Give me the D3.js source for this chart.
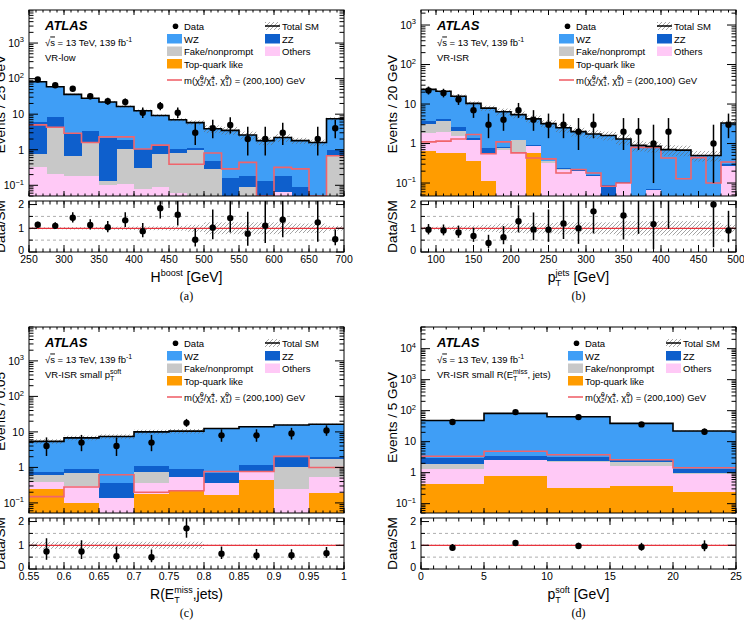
<!DOCTYPE html>
<html>
<head>
<meta charset="utf-8">
<script src="https://cdn.jsdelivr.net/npm/d3@7"></script>
<style>
  body { margin: 0; background: #fff; }
  svg { font-family: "Liberation Sans", Arial, Helvetica, sans-serif; }
</style>
</head>
<body>
<script>
// ---------- (a) VR-low, H^boost ----------
const aEdges = [250,275,300,325,350,375,400,425,450,475,500,525,550,575,600,625,650,675];
const aTop   = [0.02,0.02,0.02,0.02,0.02,0.02,0.02,0.02,0.02,0.02,0.02,0.02,0.02,0.02,0.02,0.02,0.02,0.02];
const aOth   = [0.30,0.19,0.16,0.16,0.08,0.09,0.06,0.07,0.04,0.02,0.02,0.01,0.01,0.01,0.043,0.01,0.01,0.02];
const aFake  = [0.44,4.04,0.50,1.42,0.03,0.94,0.22,0.67,0.74,0.93,0.25,0.01,0.057,0,0,0,0,0.64];
const aZZ    = [5.14,3.95,2.22,1.8,2.07,0.85,0.75,0.54,0.25,0.18,0.2,0.125,0.093,0.1,0.117,0.057,0,0.29];
const aWZ    = [76.1,50.8,33.1,24.6,19.8,14.6,11.45,7.9,5.95,4.65,3.41,3.335,2.42,1.67,2.02,1.713,1.57,6.43];
const aData  = [94,65,52,32,23,22,11,17,11,3,4,5,2,2,3,0,2,4];
const aSig   = [5.0,4.3,2.9,1.6,2.3,2.3,1.05,1.35,0.39,0.39,0.81,0.29,0.44,0.03,0.32,0.29,0.03,0.68];
const aUnc   = [0.04,0.04,0.05,0.05,0.06,0.07,0.08,0.08,0.1,0.15,0.25,0.25,0.25,0.25,0.25,0.2,0.2,0.1];

// ---------- (b) VR-ISR, pT jets ----------
const bEdges = [80,100,120,140,160,180,200,220,240,260,280,300,320,340,360,380,400,420,440,460,480];
const bTop   = [0.64,0.56,0.57,0.36,0.11,0.02,0.02,0.57,0.02,0.02,0.02,0.02,0.02,0.02,0.02,0.02,0.02,0.02,0.02,0.02,0.02];
const bOth   = [1.23,1.37,0.96,0.84,0.42,0.66,0.6,0.29,0.31,0.2,0.18,0.13,0.01,0.08,0.01,0.045,0.01,0.01,0.01,0.01,0.25];
const bFake  = [1.33,1.87,0.52,0.05,0.02,0.08,0.58,0.02,0.03,0.01,0,0,0,0,0,0,0,0,0,0,0];
const bZZ    = [0.5,0.3,0.55,0.1,0.23,0.04,0.05,0.02,0.01,0.01,0.02,0.01,0.06,0.005,0.01,0.005,0,0,0,0,0.03];
const bWZ    = [19.8,16.9,13.2,9.05,7.12,5.6,4.15,3.3,2.83,2.26,1.78,1.59,1.51,1.195,0.86,0.78,0.67,0.65,0.47,0.47,3.0];
const bData  = [22,19,13,7,3,4,7,4,3,3,2,3,0,2,2,1,2,0,0,1,3];
const bSig   = [1.1,1.15,1.3,1.69,0.55,1.1,0.58,0.43,0.41,0.18,0.22,0.18,0.083,0.1,0.8,0.8,0.43,0.128,0.44,0.1,0.34];
const bUnc   = [0.06,0.07,0.1,0.12,0.15,0.2,0.2,0.22,0.22,0.25,0.25,0.25,0.25,0.3,0.3,0.3,0.3,0.3,0.3,0.3,0.15];

// ---------- (c) VR-ISR small pT soft, R(MET,jets) ----------
const cEdges = [0.55,0.6,0.65,0.7,0.75,0.8,0.85,0.9,0.95];
const cTop   = [0.25,0.097,0.04,0.18,0.22,0.17,0.43,0.04,0.19];
const cOth   = [0.135,0.203,0.1,0.18,0.31,0.19,0.31,0.21,0.34];
const cFake  = [0.215,0.41,0,0.38,0.02,0,0,0.77,1.15];
const cZZ    = [0.14,0.21,0.22,0.33,0.37,0.35,0.4,0.93,0.3];
const cWZ    = [4.66,5.88,7.04,8.93,9.58,11.79,12.86,13.65,14.52];
const cData  = [4,5,4,5,18,8,8,9,11];
const cSig   = [0.15,0.28,0.62,0.2,0.22,0.77,0.77,2.04,0.99];
const cUnc   = [0.15,0.15,0.15,0.15,0.15,0.03,0.03,0.03,0.03];

// ---------- (d) VR-ISR small R(MET,jets), pT soft ----------
const dEdges = [0,5,10,15,20];
const dTop   = [0.44,0.78,0.31,0.36,0.23];
const dOth   = [0.9,1.82,1.89,1.24,0.7];
const dFake  = [0.59,0.05,0.1,0.6,0.02];
const dZZ    = [1.07,0.85,0.8,0.6,0.35];
const dWZ    = [45,78.5,60.9,36.2,20.7];
const dData  = [43,90,62,36,21];
const dSig   = [3.4,4.9,3.8,2.6,1.44];
const dUnc   = [0.03,0.03,0.03,0.03,0.03];

const colWZ = '#3f9ef6', colZZ = '#0e5fcc', colFake = '#c8c8c8',
      colOth = '#ffc9f6', colTop = '#ff9c00', colSig = '#f0646c';

const PW = 315, MH = 186, RGAP = 5, RH = 51;

const svg = d3.select('body').append('svg').attr('width', 744).attr('height', 623);
const defs = svg.append('defs');
const pat = defs.append('pattern').attr('id', 'hatch')
  .attr('patternUnits', 'userSpaceOnUse').attr('width', 4).attr('height', 4);
pat.append('path').attr('d', 'M-1,1 l2,-2 M0,4 l4,-4 M3,5 l2,-2')
  .attr('stroke', '#666').attr('stroke-width', 0.6);

// text with super/subscripts; part.b = place under previous part
function rich(g, x, y, parts, size, anchor) {
  const t = g.append('text').attr('x', x).attr('y', y)
    .attr('font-size', size).attr('text-anchor', anchor || 'start');
  let cur = 0, lastW = 0, pend = 0;
  parts.forEach(p => {
    if (typeof p === 'string') p = {t: p};
    const o = p.o || 0;
    const ts = t.append('tspan').text(p.t).attr('dy', o - cur);
    cur = o;
    if (p.fs) ts.attr('font-size', p.fs);
    if (p.deco) ts.style('text-decoration', p.deco);
    let dx = pend; pend = 0;
    if (p.b) dx -= lastW;
    if (dx) ts.attr('dx', dx);
    const w = ts.node().getComputedTextLength();
    if (p.b) pend = Math.max(0, lastW - w);
    lastW = w;
  });
  return t;
}

function poisson(n) {
  return [Math.max(n - Math.sqrt(n) + 0.1, 0.001), n + Math.sqrt(n) + 1];
}

function drawPanel(p) {
  const g = svg.append('g');
  const L = p.L, T = p.T, n = p.edges.length;
  const x = d3.scaleLinear().domain(p.xDomain).range([L, L + PW]);
  const y = d3.scaleLog().domain(p.yDomain).range([T + MH, T]).clamp(true);
  const RT = T + MH + RGAP, RB = RT + RH;
  const yr = d3.scaleLinear().domain([0, 2.15]).range([RB, RT]).clamp(true);

  defs.append('clipPath').attr('id', 'cm' + p.id)
    .append('rect').attr('x', L).attr('y', T).attr('width', PW).attr('height', MH);
  defs.append('clipPath').attr('id', 'cr' + p.id)
    .append('rect').attr('x', L).attr('y', RT).attr('width', PW).attr('height', RH);

  const layers = [p.top, p.oth, p.fake, p.zz, p.wz];
  const colors = [colTop, colOth, colFake, colZZ, colWZ];
  const cum = [];
  let run = p.edges.map(() => 0);
  layers.forEach(l => { run = run.map((v, i) => v + l[i]); cum.push(run); });
  const total = cum[4];
  const bx0 = i => x(p.edges[i]), bx1 = i => x(p.edges[i] + p.bw);
  const idx = d3.range(n);

  const main = g.append('g').attr('clip-path', `url(#cm${p.id})`);
  for (let k = 4; k >= 0; k--) {
    main.append('g').selectAll('rect').data(idx).join('rect')
      .attr('x', bx0).attr('width', i => bx1(i) - bx0(i) + 0.3)
      .attr('y', i => y(cum[k][i])).attr('height', i => T + MH - y(cum[k][i]))
      .attr('fill', colors[k]).attr('shape-rendering', 'crispEdges');
  }
  main.append('g').selectAll('rect').data(idx).join('rect')
    .attr('x', bx0).attr('width', i => bx1(i) - bx0(i))
    .attr('y', i => y(total[i] * (1 + p.unc[i])))
    .attr('height', i => y(total[i] * (1 - p.unc[i])) - y(total[i] * (1 + p.unc[i])))
    .attr('fill', 'url(#hatch)');
  const step = (vals, sy) => d3.line().curve(d3.curveStepAfter)(
    [...idx.map(i => [bx0(i), sy(vals[i])]), [bx1(n - 1), sy(vals[n - 1])]]);
  main.append('path').attr('d', step(p.sig, y)).attr('fill', 'none')
    .attr('stroke', colSig).attr('stroke-width', 1.6);
  main.append('path').attr('d', step(total, y)).attr('fill', 'none')
    .attr('stroke', '#000').attr('stroke-width', 1.6);

  const pts = idx.filter(i => p.data[i] > 0);
  const cx = i => x(p.edges[i] + p.bw / 2);
  main.append('g').selectAll('line').data(pts).join('line')
    .attr('x1', cx).attr('x2', cx)
    .attr('y1', i => y(poisson(p.data[i])[0])).attr('y2', i => y(poisson(p.data[i])[1]))
    .attr('stroke', '#000').attr('stroke-width', 1.5);
  main.append('g').selectAll('circle').data(pts).join('circle')
    .attr('cx', cx).attr('cy', i => y(p.data[i])).attr('r', 3.2).attr('fill', '#000');

  // ratio panel
  const rat = g.append('g').attr('clip-path', `url(#cr${p.id})`);
  rat.append('g').selectAll('rect').data(idx).join('rect')
    .attr('x', bx0).attr('width', i => bx1(i) - bx0(i))
    .attr('y', i => yr(1 + p.unc[i])).attr('height', i => yr(1 - p.unc[i]) - yr(1 + p.unc[i]))
    .attr('fill', 'url(#hatch)');
  [0.5, 1.5].forEach(v => rat.append('line')
    .attr('x1', L).attr('x2', L + PW).attr('y1', yr(v)).attr('y2', yr(v))
    .attr('stroke', '#999').attr('stroke-dasharray', '3,3').attr('stroke-width', 0.8));
  rat.append('line').attr('x1', L).attr('x2', L + PW).attr('y1', yr(1)).attr('y2', yr(1))
    .attr('stroke', '#e8333c').attr('stroke-width', 1.3);
  rat.append('g').selectAll('line').data(pts).join('line')
    .attr('x1', cx).attr('x2', cx)
    .attr('y1', i => yr(poisson(p.data[i])[0] / total[i]))
    .attr('y2', i => yr(poisson(p.data[i])[1] / total[i]))
    .attr('stroke', '#000').attr('stroke-width', 1.5);
  rat.append('g').selectAll('circle').data(pts.filter(i => p.data[i] / total[i] < 2.15)).join('circle')
    .attr('cx', cx).attr('cy', i => yr(p.data[i] / total[i])).attr('r', 3.2).attr('fill', '#000');

  // frames
  [[T, MH], [RT, RH]].forEach(([t, h]) => g.append('rect')
    .attr('x', L).attr('y', t).attr('width', PW).attr('height', h)
    .attr('fill', 'none').attr('stroke', '#000').attr('stroke-width', 1));

  // ticks
  const tk = g.append('g').attr('stroke', '#000').attr('stroke-width', 1);
  const vtick = (xx, y0, len) => { tk.append('line').attr('x1', xx).attr('x2', xx).attr('y1', y0).attr('y2', y0 + len); };
  const htick = (yy, x0, len) => { tk.append('line').attr('x1', x0).attr('x2', x0 + len).attr('y1', yy).attr('y2', yy); };
  p.xMinor.forEach(v => {
    const xx = x(v);
    vtick(xx, T + MH, -2.5); vtick(xx, T, 2.5); vtick(xx, RB, -3.5); vtick(xx, RT, 3.5);
  });
  p.xMajor.forEach(v => {
    const xx = x(v);
    vtick(xx, T + MH, -5); vtick(xx, T, 5); vtick(xx, RB, -7); vtick(xx, RT, 7);
  });
  const [ylo, yhi] = p.yDomain;
  for (let e = Math.floor(Math.log10(ylo)); e <= Math.ceil(Math.log10(yhi)); e++) {
    for (let m = 1; m <= 9; m++) {
      const v = m * Math.pow(10, e);
      if (v < ylo || v > yhi) continue;
      const len = m === 1 ? 9 : 4.5;
      htick(y(v), L, len); htick(y(v), L + PW, -len);
    }
  }
  [0, 0.5, 1, 1.5, 2].forEach(v => {
    const len = Number.isInteger(v) ? 8 : 4;
    htick(yr(v), L, len); htick(yr(v), L + PW, -len);
  });

  // tick labels
  const lab = g.append('g').attr('font-size', 10.5);
  for (let e = Math.ceil(Math.log10(ylo)); e <= Math.floor(Math.log10(yhi)); e++) {
    const yy = y(Math.pow(10, e)) + 3.8;
    if (e === 0) rich(lab, L - 5, yy, ['1'], 10.5, 'end');
    else if (e === 1) rich(lab, L - 5, yy, ['10'], 10.5, 'end');
    else rich(lab, L - 5, yy, ['10', {t: String(e).replace('-', '\u2212'), o: -4.5, fs: 7.5}], 10.5, 'end');
  }
  [0, 1, 2].forEach(v => lab.append('text').attr('x', L - 5).attr('y', yr(v) + (v === 0 ? 1.5 : 3.8))
    .attr('text-anchor', 'end').text(v));
  p.xMajor.forEach(v => lab.append('text').attr('x', x(v)).attr('y', RB + 10.5)
    .attr('text-anchor', 'middle').text(p.xFmt(v)));

  // axis titles
  const cxm = L + PW / 2;
  rich(g, cxm, RB + 30, p.xTitle, 14, 'middle');
  g.append('text').attr('x', cxm).attr('y', RB + 48).attr('text-anchor', 'middle')
    .attr('font-family', '"Liberation Serif", "Times New Roman", serif').attr('font-size', 12)
    .text(p.caption);
  g.append('text').attr('transform', `translate(${L - 24},${T + 45}) rotate(-90)`)
    .attr('text-anchor', 'end').attr('font-size', 13.5).text(p.yTitle);
  g.append('text').attr('transform', `translate(${L - 24},${RT + RH / 2}) rotate(-90)`)
    .attr('text-anchor', 'middle').attr('font-size', 13.5).text('Data/SM');

  // labels and legend
  g.append('text').attr('x', L + 16).attr('y', T + 20).attr('font-size', 13)
    .attr('font-weight', 'bold').attr('font-style', 'italic').text('ATLAS');
  rich(g, L + 16, T + 35.5, ['\u221A', {t: 's', deco: 'overline'}, ' = 13 TeV, 139 fb',
    {t: '-1', o: -4, fs: 7}], 9.5);
  rich(g, L + 16, T + 50.5, p.region, 9.5);

  const c1 = L + 138 + p.shift, c2 = L + 236 + p.shift;
  const rows = [T + 19.5, T + 32.5, T + 45, T + 57.5];
  const lg = g.append('g').attr('font-size', 9.5);
  g.append('circle').attr('cx', c1 + 8.5).attr('cy', rows[0] - 3.3).attr('r', 2.8).attr('fill', '#000');
  lg.append('text').attr('x', c1 + 17).attr('y', rows[0]).text('Data');
  g.append('rect').attr('x', c2).attr('y', rows[0] - 7.5).attr('width', 15).attr('height', 8)
    .attr('fill', 'url(#hatch)');
  g.append('line').attr('x1', c2).attr('x2', c2 + 15).attr('y1', rows[0] - 3.5).attr('y2', rows[0] - 3.5)
    .attr('stroke', '#000').attr('stroke-width', 1.5);
  lg.append('text').attr('x', c2 + 17).attr('y', rows[0]).text('Total SM');
  const boxes = [[c1, rows[1], colWZ, 'WZ'], [c2, rows[1], colZZ, 'ZZ'],
    [c1, rows[2], colFake, 'Fake/nonprompt'], [c2, rows[2], colOth, 'Others'],
    [c1, rows[3], colTop, 'Top-quark like']];
  boxes.forEach(([bx, by, col, txt]) => {
    g.append('rect').attr('x', bx).attr('y', by - 8.5).attr('width', 15).attr('height', 9.5).attr('fill', col);
    lg.append('text').attr('x', bx + 17).attr('y', by).text(txt);
  });
  g.append('line').attr('x1', c1).attr('x2', c1 + 15).attr('y1', T + 70).attr('y2', T + 70)
    .attr('stroke', colSig).attr('stroke-width', 1.6);
  rich(g, c1 + 17, T + 73.5, ['m(', '\u03C7\u0303', {t: '0', o: -4, fs: 6.5}, {t: '2', o: 2.5, fs: 6.5, b: true},
    {t: '/\u03C7\u0303', o: 0}, {t: '\u00B1', o: -4, fs: 6.5}, {t: '1', o: 2.5, fs: 6.5, b: true},
    {t: ', \u03C7\u0303', o: 0}, {t: '0', o: -4, fs: 6.5}, {t: '1', o: 2.5, fs: 6.5, b: true},
    {t: ') = (200,100) GeV', o: 0}], 9.5);
}

const sub = (t) => ({t: t, o: 4, fs: 9, b: true});
const sup = (t) => ({t: t, o: -6, fs: 9});

drawPanel({
  id: 'a', L: 29, T: 10, xDomain: [250, 700], yDomain: [0.05, 8500],
  edges: aEdges, bw: 25, top: aTop, oth: aOth, fake: aFake, zz: aZZ, wz: aWZ,
  data: aData, sig: aSig, unc: aUnc,
  xMajor: d3.range(250, 701, 50), xMinor: d3.range(250, 701, 10), xFmt: v => String(v),
  xTitle: ['H', sup('boost'), {t: ' [GeV]', o: 0}], yTitle: 'Events / 25 GeV',
  region: ['VR-low'], caption: '(a)', shift: 0
});
drawPanel({
  id: 'b', L: 421, T: 10, xDomain: [80, 500], yDomain: [0.047, 2400],
  edges: bEdges, bw: 20, top: bTop, oth: bOth, fake: bFake, zz: bZZ, wz: bWZ,
  data: bData, sig: bSig, unc: bUnc,
  xMajor: d3.range(100, 501, 50), xMinor: d3.range(80, 501, 10), xFmt: v => String(v),
  xTitle: ['p', sup('jets'), sub('T'), {t: ' [GeV]', o: 0}], yTitle: 'Events / 20 GeV',
  region: ['VR-ISR'], caption: '(b)', shift: 0
});
drawPanel({
  id: 'c', L: 29, T: 327, xDomain: [0.55, 1], yDomain: [0.052, 9000],
  edges: cEdges, bw: 0.05, top: cTop, oth: cOth, fake: cFake, zz: cZZ, wz: cWZ,
  data: cData, sig: cSig, unc: cUnc,
  xMajor: d3.range(0, 10).map(i => 0.55 + i * 0.05), xMinor: d3.range(0, 46).map(i => 0.55 + i * 0.01),
  xFmt: v => String(+v.toFixed(2)),
  xTitle: ['R(E', sup('miss'), sub('T'), {t: ',jets)', o: 0}], yTitle: 'Events / 0.05',
  region: ['VR-ISR small p', {t: 'soft', o: -4, fs: 7}, {t: 'T', o: 3, fs: 7, b: true}],
  caption: '(c)', shift: 0
});
drawPanel({
  id: 'd', L: 421, T: 327, xDomain: [0, 25], yDomain: [0.05, 50000],
  edges: dEdges, bw: 5, top: dTop, oth: dOth, fake: dFake, zz: dZZ, wz: dWZ,
  data: dData, sig: dSig, unc: dUnc,
  xMajor: d3.range(0, 26, 5), xMinor: d3.range(0, 26, 1), xFmt: v => String(v),
  xTitle: ['p', sup('soft'), sub('T'), {t: ' [GeV]', o: 0}], yTitle: 'Events / 5 GeV',
  region: ['VR-ISR small R(E', {t: 'miss', o: -4, fs: 7}, {t: 'T', o: 3, fs: 7, b: true},
    {t: ', jets)', o: 0}],
  caption: '(d)', shift: 9
});
</script>
</body>
</html>
